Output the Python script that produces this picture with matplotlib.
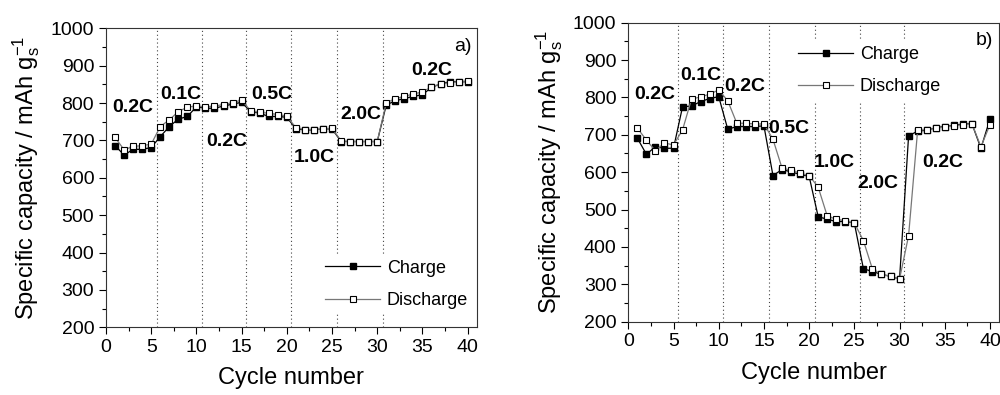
import matplotlib
matplotlib.use('Agg')
import matplotlib.pyplot as plt
from matplotlib.ticker import MultipleLocator

plt.rcParams['font.family'] = ['Liberation Sans', 'DejaVu Sans']
plt.rcParams['mathtext.fontset'] = 'custom'
plt.rcParams['mathtext.rm'] = 'Liberation Sans'
plt.rcParams['mathtext.it'] = 'Liberation Sans'

cycles = list(range(1, 41))

a_charge = [686, 661, 676, 676, 681, 710, 737, 757, 764, 790,
            786, 786, 792, 797, 802, 777, 773, 764, 764, 762,
            731, 728, 728, 731, 731, 697, 697, 697, 697, 697,
            795, 806, 812, 818, 822, 842, 851, 857, 857, 857]
a_discharge = [708, 675, 684, 686, 690, 737, 755, 777, 789, 792,
               789, 792, 796, 801, 808, 779, 775, 773, 769, 765,
               734, 729, 729, 731, 732, 699, 697, 697, 697, 697,
               801, 811, 818, 824, 830, 843, 851, 854, 857, 859]

b_charge = [691, 648, 668, 664, 664, 775, 777, 789, 797, 802,
            715, 722, 722, 722, 724, 591, 607, 601, 594, 589,
            481, 474, 468, 468, 464, 342, 334, 327, 321, 314,
            697, 710, 712, 719, 722, 725, 729, 730, 664, 742]
b_discharge = [718, 686, 657, 678, 673, 713, 796, 801, 809, 820,
               791, 731, 731, 729, 729, 688, 611, 605, 597, 591,
               560, 483, 474, 470, 464, 417, 341, 327, 321, 314,
               430, 712, 714, 717, 721, 724, 727, 730, 668, 727]

a_steps = [5.6, 10.6, 15.5, 20.5, 25.6, 30.6]
b_steps = [5.5, 10.5, 15.6, 20.6, 25.6, 30.5]

a_rates = ['0.2C', '0.1C', '0.2C', '0.5C', '1.0C', '2.0C', '0.2C']
a_rate_xy = [(3.0, 789), (8.3, 824), (13.4, 696), (18.3, 824), (23.0, 653), (28.2, 768), (36.0, 888)]
b_rates = ['0.2C', '0.1C', '0.2C', '0.5C', '1.0C', '2.0C', '0.2C']
b_rate_xy = [(2.9, 807), (8.0, 860), (12.9, 828), (17.7, 718), (22.8, 625), (27.6, 571), (34.8, 625)]

fig = plt.figure(figsize=(10, 3.95), dpi=100)
ax1 = fig.add_axes([0.106, 0.1714, 0.3707, 0.757])
ax2 = fig.add_axes([0.6283, 0.1856, 0.3707, 0.757])


def panel(ax, charge, discharge, steps, rates, rate_xy, tag, leg_anchor):
    for s in steps:
        ax.axvline(s, color='#444444', lw=0.8, ls=(0, (1, 2.5)), zorder=1)
    ax.plot(cycles, charge, color='black', lw=0.9, marker='s', ms=4.5,
            mfc='black', mec='black', label='Charge', zorder=3)
    ax.plot(cycles, discharge, color='#777777', lw=0.9, marker='s', ms=4.5,
            mfc='white', mec='black', mew=0.8, label='Discharge', zorder=4)
    for t, (x, y) in zip(rates, rate_xy):
        ax.text(x, y, t, fontsize=14, fontweight='bold', ha='center', va='center', zorder=5)
    ax.text(0.985, 0.94, tag, transform=ax.transAxes, fontsize=14, ha='right', va='center')
    leg = ax.legend(loc='upper left', bbox_to_anchor=leg_anchor, fontsize=13,
                    handlelength=3.0, handletextpad=0.4, labelspacing=0.85,
                    frameon=True, fancybox=False, borderpad=0.3)
    leg.get_frame().set_edgecolor('none')
    leg.get_frame().set_facecolor('white')
    leg.get_frame().set_alpha(1)
    leg.set_zorder(2)
    ax.set_xlim(0, 41)
    ax.set_ylim(200, 1000)
    ax.xaxis.set_major_locator(MultipleLocator(5))
    ax.xaxis.set_minor_locator(MultipleLocator(2.5))
    ax.yaxis.set_major_locator(MultipleLocator(100))
    ax.yaxis.set_minor_locator(MultipleLocator(50))
    ax.tick_params(which='both', direction='out', top=False, right=False, labelsize=14)
    ax.tick_params(which='major', length=5, width=0.8)
    ax.tick_params(which='minor', length=3, width=0.8)
    for sp in ax.spines.values():
        sp.set_linewidth(0.8)
        sp.set_color('#333333')
    ax.set_xlabel('Cycle number', fontsize=17, labelpad=8)
    ax.set_ylabel('Specific capacity / mAh g$_\\mathregular{s}^\\mathregular{-1}$', fontsize=17, labelpad=6)


panel(ax1, a_charge, a_discharge, a_steps, a_rates, a_rate_xy, 'a)', (0.553, 0.275))
panel(ax2, b_charge, b_discharge, b_steps, b_rates, b_rate_xy, 'b)', (0.42, 0.97))

fig.savefig('out.png', dpi=100)
plt.close(fig)
